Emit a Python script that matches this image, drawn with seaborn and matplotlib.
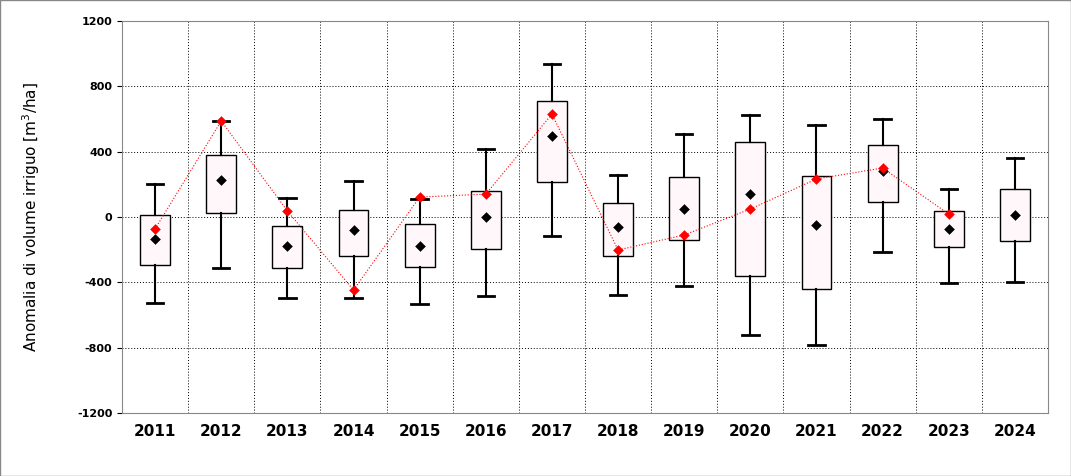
import matplotlib
matplotlib.use("Agg")
import matplotlib.pyplot as plt
import seaborn as sns
import numpy as np
import pandas as pd

years = ["2011","2012","2013","2014","2015","2016","2017","2018","2019","2020","2021","2022","2023","2024"]
whisk_hi = [202,588,116,220,110,416,937,257,508,625,563,600,171,361]
q3 = [12,380,-55,43,-43,160,710,86,245,459,251,441,37,171]
mean_black = [-135,227,-178,-80,-178,0,496,-61,49,141,-49,282,-73,12]
q1 = [-294,25,-312,-239,-306,-196,214,-239,-141,-361,-441,92,-184,-147]
whisk_lo = [-527,-312,-496,-496,-533,-484,-116,-478,-423,-723,-784,-214,-404,-398]
red_vals = [-73,588,37,-447,122,140,630,-202,-110,49,233,300,18,np.nan]

fig = plt.figure(figsize=(10.71,4.76), dpi=100)
fig.patches.append(plt.Rectangle((0,0),1,1,transform=fig.transFigure,fill=False,edgecolor="#888888",lw=1))
ax = fig.add_axes([122/1071, 1-413/476, (1048-122)/1071, (413-21)/476])

x = np.arange(len(years))
stats = [dict(whishi=h, q3=a, med=m, q1=b, whislo=l, mean=m, fliers=[]) for h,a,m,b,l in zip(whisk_hi,q3,mean_black,q1,whisk_lo)]
ax.bxp(stats, positions=x, widths=0.45, showfliers=False, showcaps=True, patch_artist=True,
       boxprops=dict(facecolor="#fff7fa", edgecolor="black", lw=1),
       whiskerprops=dict(color="black", lw=1.5), capprops=dict(color="black", lw=2),
       capwidths=0.25, medianprops=dict(visible=False), manage_ticks=False)

df_b = pd.DataFrame({"x": x, "y": mean_black})
df_r = pd.DataFrame({"x": x, "y": red_vals}).dropna()
ax.plot(df_r.x, df_r.y, color="red", lw=0.8, ls=":", zorder=4)
sns.scatterplot(data=df_b, x="x", y="y", marker="D", color="black", s=25, ax=ax, zorder=5, edgecolor="black")
sns.scatterplot(data=df_r, x="x", y="y", marker="D", color="red", s=25, ax=ax, zorder=6, edgecolor="red")

ax.set_xlim(-0.5, len(years)-0.5)
ax.set_ylim(-1200, 1200)
ax.set_yticks(range(-1200, 1201, 400))
ax.set_yticklabels([str(v) for v in range(-1200, 1201, 400)], fontsize=8, fontweight="bold")
ax.set_xticks(x)
ax.set_xticklabels(years, fontsize=11, fontweight="bold")
ax.set_xticks(np.arange(0.5, len(years)-0.5, 1), minor=True)
ax.tick_params(axis="x", which="both", length=0, pad=8)
ax.grid(axis="y", which="major", ls=(0,(1,2)), color="black", lw=0.7)
ax.grid(axis="x", which="minor", ls=(0,(1,2)), color="black", lw=0.7)
ax.set_axisbelow(True)
for s in ax.spines.values():
    s.set_color("#888888")
ax.set_xlabel("")
ax.set_ylabel("Anomalia di volume irriguo [m$^3$/ha]", fontsize=11, labelpad=25)
fig.savefig("out.png", dpi=100)
